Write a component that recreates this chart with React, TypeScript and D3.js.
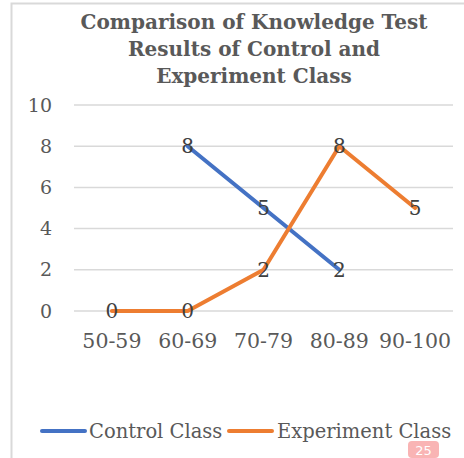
import * as d3 from "d3";

const categories = ["50-59", "60-69", "70-79", "80-89", "90-100"];
const controlValues: (number | null)[] = [null, 8, 5, 2, null];
const experimentValues: (number | null)[] = [0, 0, 2, 8, 5];
const yTicks = [0, 2, 4, 6, 8, 10];
const titleLines = ["Comparison of Knowledge Test", "Results of Control and", "Experiment Class"];

const series = [
  { name: "Control Class", values: controlValues, color: "#4472C4" },
  { name: "Experiment Class", values: experimentValues, color: "#ED7D31" },
];

const W = 464;
const H = 458;
const FONT = "'DejaVu Serif', serif";
const TEXT = "#595959";

export default function App() {
  const x = d3.scaleBand().domain(categories).range([74, 453]);
  const y = d3.scaleLinear().domain([0, 10]).range([311, 105]);

  const line = d3
    .line<number | null>()
    .defined((d) => d !== null)
    .x((_, i) => (x(categories[i]) ?? 0) + x.bandwidth() / 2)
    .y((d) => y(d as number));

  return (
    <svg
      width={W}
      height={H}
      style={{ position: "absolute", left: 0, top: 0, background: "#fff" }}
      fontFamily={FONT}
    >
      <rect x={0} y={0} width={W} height={H} fill="#fff" />
      {/* chart border */}
      <path d={`M11.5,${H} V3.5 H${W}`} fill="none" stroke="#d9d9d9" strokeWidth={2} />

      {titleLines.map((t, i) => (
        <text
          key={t}
          x={254}
          y={29 + i * 27}
          textAnchor="middle"
          fontSize={20}
          fontWeight="bold"
          fill={TEXT}
        >
          {t}
        </text>
      ))}

      {yTicks.map((t) => (
        <g key={t}>
          <line x1={74} x2={453} y1={y(t)} y2={y(t)} stroke="#d9d9d9" strokeWidth={1.5} />
          <text x={52} y={y(t)} dy="0.35em" textAnchor="end" fontSize={19} fill={TEXT}>
            {t}
          </text>
        </g>
      ))}

      {categories.map((c) => (
        <text
          key={c}
          x={(x(c) ?? 0) + x.bandwidth() / 2}
          y={348}
          textAnchor="middle"
          fontSize={20.5}
          fill={TEXT}
        >
          {c}
        </text>
      ))}

      {series.map((s) => (
        <path
          key={s.name}
          d={line(s.values) ?? ""}
          fill="none"
          stroke={s.color}
          strokeWidth={4}
          strokeLinejoin="round"
          strokeLinecap="round"
        />
      ))}

      {series.map((s) =>
        s.values.map((v, i) =>
          v === null ? null : (
            <text
              key={s.name + i}
              x={(x(categories[i]) ?? 0) + x.bandwidth() / 2}
              y={y(v)}
              dy="0.35em"
              textAnchor="middle"
              fontSize={20}
              fill="#404040"
            >
              {v}
            </text>
          )
        )
      )}

      {/* legend */}
      <g>
        <line x1={42} x2={85} y1={431} y2={431} stroke={series[0].color} strokeWidth={4} strokeLinecap="round" />
        <text x={89} y={431} dy="0.35em" fontSize={19.5} fill={TEXT}>
          {series[0].name}
        </text>
        <line x1={229} x2={272} y1={431} y2={431} stroke={series[1].color} strokeWidth={4} strokeLinecap="round" />
        <text x={277} y={431} dy="0.35em" fontSize={19.5} fill={TEXT}>
          {series[1].name}
        </text>
      </g>

      {/* page badge */}
      <rect x={408} y={441} width={31} height={17} rx={4} fill="#f9b4b4" />
      <text x={423.5} y={450} dy="0.35em" textAnchor="middle" fontSize={13} fill="#fff" fontFamily="'DejaVu Sans', sans-serif">
        25
      </text>
    </svg>
  );
}
